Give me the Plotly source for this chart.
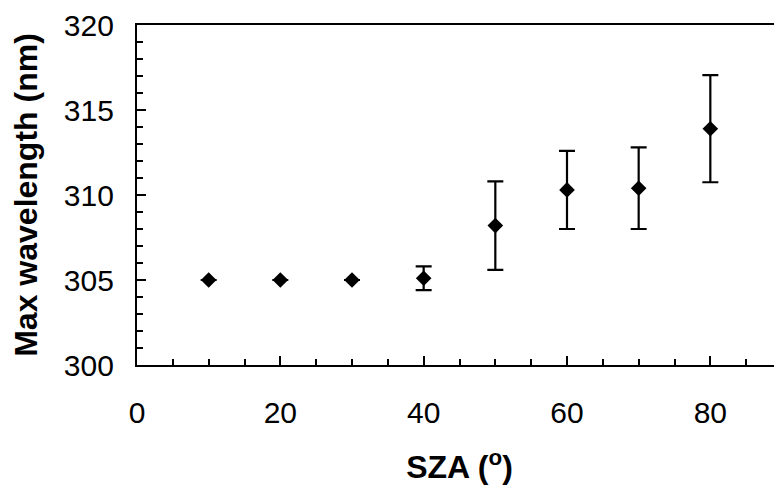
import plotly.graph_objects as go

sza = [10, 20, 30, 40, 50, 60, 70, 80]
max_wl = [305.0, 305.0, 305.0, 305.1, 308.2, 310.3, 310.4, 313.9]
err = [0, 0, 0, 0.7, 2.6, 2.3, 2.4, 3.15]

x_ticks = [0, 20, 40, 60, 80]
y_ticks = [300, 305, 310, 315, 320]

fig = go.Figure()
fig.add_trace(go.Scatter(
    x=sza, y=max_wl, mode="markers",
    marker=dict(symbol="diamond", size=12, color="black"),
    error_y=dict(type="data", array=err, visible=True, color="black", thickness=2.2, width=8),
    showlegend=False,
))

font = dict(family="Liberation Sans, Arial, sans-serif", size=30, color="black")

# page body has an 8px margin; size the figure so it fits the 782x496 window exactly
fig.update_layout(
    width=774, height=480,
    margin=dict(l=129, r=0, t=14, b=123),
    paper_bgcolor="white", plot_bgcolor="white",
    font=font,
    xaxis=dict(
        range=[0, 90], tickvals=x_ticks, ticks="inside", ticklen=9, tickwidth=1.5, tickcolor="black",
        showline=True, linecolor="black", linewidth=2.2, mirror=True, showgrid=False, zeroline=False,
        minor=dict(dtick=5, ticks="inside", ticklen=6, tickwidth=1.5, tickcolor="black"),
        ticklabelstandoff=20, ticklabeloverflow="allow",
        title=dict(text="<b>SZA (<sup>o</sup>)</b>", font=dict(size=32), standoff=28),
    ),
    yaxis=dict(
        range=[300, 320], tickvals=y_ticks, ticks="inside", ticklen=9, tickwidth=1.5, tickcolor="black",
        showline=True, linecolor="black", linewidth=2.2, showgrid=False, zeroline=False,
        minor=dict(dtick=1, ticks="inside", ticklen=6, tickwidth=1.5, tickcolor="black"),
        ticklabelstandoff=15, ticklabeloverflow="allow",
        title=dict(text="<b>Max wavelength (nm)</b>", font=dict(size=32), standoff=20),
    ),
)

fig.write_html("out.html")
